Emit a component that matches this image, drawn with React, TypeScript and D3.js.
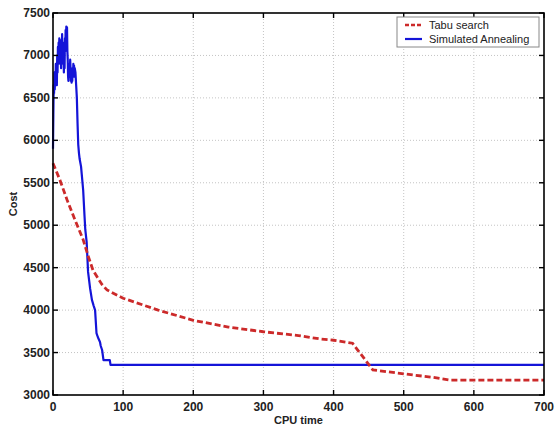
import React from "react";
import * as d3 from "d3";

// CPU time ticks and cost ticks
const xTicks = [0, 100, 200, 300, 400, 500, 600, 700];
const yTicks = [3000, 3500, 4000, 4500, 5000, 5500, 6000, 6500, 7000, 7500];

// Tabu search: [cpu time, cost]
const tabuTime = [0, 10, 20, 30, 43, 50, 57, 63, 70, 77, 100, 150, 200, 250, 300, 350, 381, 400, 427, 440, 456, 500, 513, 540, 566, 700];
const tabuCost = [5730, 5530, 5300, 5090, 4830, 4640, 4470, 4390, 4300, 4237, 4140, 4000, 3880, 3800, 3745, 3700, 3660, 3645, 3610, 3470, 3295, 3250, 3236, 3210, 3176, 3176];

// Simulated annealing: [cpu time, cost]
const saTime = [
  0, 0.5, 1, 1.5, 2, 2.5, 3, 3.5, 4, 4.5, 5, 5.5, 6, 6.5, 7, 7.5, 8, 8.5, 9, 9.5,
  10, 10.5, 11, 11.5, 12, 12.5, 13, 13.5, 14, 14.5, 15, 15.5, 16, 16.5, 17, 17.5, 18, 18.5, 19, 19.5,
  20, 20.5, 21, 21.5, 22, 22.5, 23, 23.5, 24, 24.5, 25, 25.5, 26, 26.5, 27, 27.5, 28, 28.5, 29, 29.5,
  30, 30.5, 31, 32, 33, 34, 35, 36, 37, 38, 40, 41, 43, 45, 46, 48, 50, 53, 55.5, 58,
  60, 62, 64, 67, 68, 70, 72, 81, 82, 85, 700,
];
const saCost = [
  5900, 6300, 6650, 6550, 6800, 6600, 6750, 6650, 6900, 6700, 6850, 6650, 7000, 6800, 7100, 6900, 7150, 7000, 7200, 7050,
  7180, 6900, 7100, 6850, 7150, 7000, 7250, 6950, 7150, 6900, 7100, 6800, 7000, 6850, 7200, 7050, 7300, 7200, 7340, 7250,
  7330, 7050, 6950, 6750, 6700, 6850, 6750, 6900, 6800, 6950, 6850, 6700, 6800, 6680, 6750, 6700, 6850, 6750, 6900, 6800,
  6880, 6750, 6850, 6800, 6650, 6500, 6200, 5950, 5850, 5780, 5690, 5600, 5415, 5100, 4950, 4800, 4450, 4250, 4120, 4050,
  4000, 3730, 3680, 3625, 3580, 3530, 3410, 3410, 3355, 3355, 3355,
];

const W = 556;
const H = 429;
const m = { left: 53, right: 12, top: 13, bottom: 34 };

export default function App() {
  const x = d3.scaleLinear().domain([0, 700]).range([m.left, W - m.right]);
  const y = d3.scaleLinear().domain([3000, 7500]).range([H - m.bottom, m.top]);

  const line = d3
    .line<[number, number]>()
    .x((d) => x(d[0]))
    .y((d) => y(d[1]));

  const tabu = tabuTime.map((t, i) => [t, tabuCost[i]] as [number, number]);
  const sa = saTime.map((t, i) => [t, saCost[i]] as [number, number]);

  const x0 = x(0), x1 = x(700), y0 = y(3000), y1 = y(7500);
  const font = "'Liberation Sans', Arial, Helvetica, sans-serif";

  return (
    <svg
      width={W}
      height={H}
      style={{ position: "absolute", left: 0, top: 0, background: "#fff" }}
      fontFamily={font}
    >
      {/* grid */}
      <g stroke="#c4c4c4" strokeWidth={1} strokeDasharray="1,2">
        {xTicks.slice(1, -1).map((t) => (
          <line key={"gx" + t} x1={x(t)} x2={x(t)} y1={y1} y2={y0} />
        ))}
        {yTicks.slice(1, -1).map((t) => (
          <line key={"gy" + t} x1={x0} x2={x1} y1={y(t)} y2={y(t)} />
        ))}
      </g>

      {/* series */}
      <path d={line(sa) ?? ""} fill="none" stroke="#1414d8" strokeWidth={2.2} strokeLinejoin="round" />
      <path
        d={line(tabu) ?? ""}
        fill="none"
        stroke="#cc2a2a"
        strokeWidth={2.8}
        strokeDasharray="6,3"
      />

      {/* box + ticks */}
      <rect x={x0} y={y1} width={x1 - x0} height={y0 - y1} fill="none" stroke="#000" strokeWidth={1.6} />
      <g stroke="#000" strokeWidth={1.4}>
        {xTicks.map((t) => (
          <g key={"tx" + t}>
            <line x1={x(t)} x2={x(t)} y1={y0} y2={y0 - 5} />
            <line x1={x(t)} x2={x(t)} y1={y1} y2={y1 + 5} />
          </g>
        ))}
        {yTicks.map((t) => (
          <g key={"ty" + t}>
            <line x1={x0} x2={x0 + 5} y1={y(t)} y2={y(t)} />
            <line x1={x1} x2={x1 - 5} y1={y(t)} y2={y(t)} />
          </g>
        ))}
      </g>

      {/* tick labels */}
      <g fontSize={12} fontWeight="bold" fill="#222">
        {xTicks.map((t) => (
          <text key={"lx" + t} x={x(t)} y={y0 + 16} textAnchor="middle">
            {t}
          </text>
        ))}
        {yTicks.map((t) => (
          <text key={"ly" + t} x={x0 - 3} y={y(t) + 4} textAnchor="end">
            {t}
          </text>
        ))}
      </g>

      {/* axis titles */}
      <text x={(x0 + x1) / 2} y={424} textAnchor="middle" fontSize={11} fontWeight="bold" fill="#222">
        CPU time
      </text>
      <text
        transform={`translate(17,${(y0 + y1) / 2}) rotate(-90)`}
        textAnchor="middle"
        fontSize={11}
        fontWeight="bold"
        fill="#222"
      >
        Cost
      </text>

      {/* legend */}
      <g>
        <rect x={397} y={17} width={142} height={30} fill="#fff" stroke="#888" strokeWidth={1} />
        <line x1={405} x2={422} y1={25} y2={25} stroke="#cc2a2a" strokeWidth={2.5} strokeDasharray="4,2" />
        <line x1={405} x2={422} y1={39} y2={39} stroke="#1414d8" strokeWidth={2.2} />
        <text x={429} y={29} fontSize={11} fill="#222">Tabu search</text>
        <text x={429} y={43} fontSize={11} fill="#222">Simulated Annealing</text>
      </g>
    </svg>
  );
}
